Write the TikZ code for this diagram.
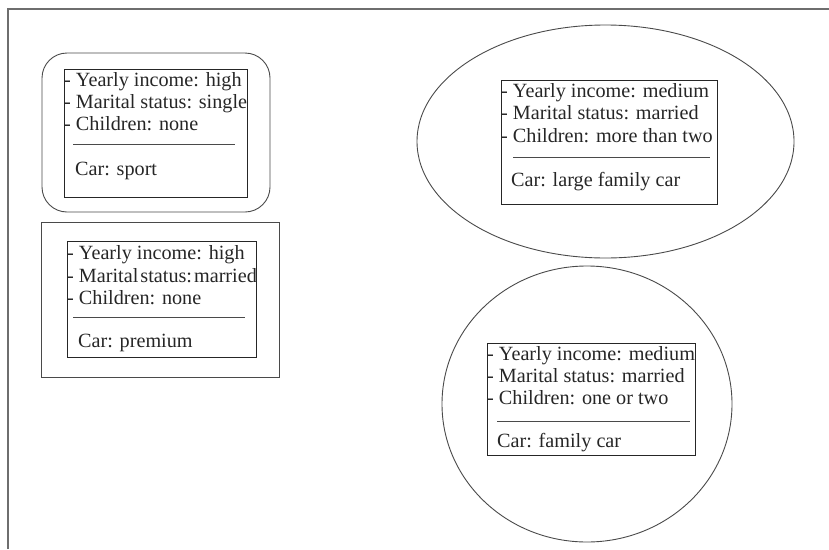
\documentclass[tikz,border=0pt]{standalone}
\usepackage{fontspec}
\setmainfont{Liberation Serif}
\definecolor{LineClr}{HTML}{4a4a4a}
\definecolor{FrameClr}{HTML}{6e6e6e}

\begin{document}
\begin{tikzpicture}[x=1pt,y=-1pt,
  frame/.style={line width=2pt,color=FrameClr},
  outline/.style={line width=0.9pt,color=LineClr},
  card/.style={line width=0.8pt,color=black!85},
  sep/.style={line width=0.8pt,color=LineClr},
  attr/.style={anchor=base west,inner sep=0pt,text=black!85,font=\fontsize{20.2}{22}\selectfont}]
\useasboundingbox (0,0) rectangle (829,549);

\draw[frame] (8,549) -- (8,8.5) -- (829,8.5);

% sport
\draw[outline,rounded corners=25pt] (42,53) rectangle (270,212);
\draw[card] (64,69) rectangle (247,197);
\node[attr] (sportA) at (64,86) {- Yearly income: high};
\node[attr] (sportB) at (64,108) {- Marital status: single};
\node[attr] (sportC) at (64,130) {- Children: none};
\coordinate (sportL) at (73,144);
\coordinate (sportR) at (235,144);
\draw[sep] (sportL) -- (sportR);
\node[attr] (sportCar) at (75,175) {Car: sport};

% premium
\draw[outline] (41,222) rectangle (279,377);
\draw[card] (67,241) rectangle (256,357);
\node[attr] (premA) at (67,259) {- Yearly income: high};
\node[attr] (premB) at (67,282) {- Marital\hspace{2pt}status:\hspace{2pt}married};
\node[attr] (premC) at (67,304) {- Children: none};
\coordinate (premL) at (73,317);
\coordinate (premR) at (245,317);
\draw[sep] (premL) -- (premR);
\node[attr] (premCar) at (78,347) {Car: premium};

% large family car
\draw[outline] (605.5,141.5) ellipse [x radius=188.5,y radius=116.5];
\draw[card] (501,80) rectangle (717,204);
\node[attr] (largeA) at (501,97) {- Yearly income: medium};
\node[attr] (largeB) at (501,119) {- Marital status: married};
\node[attr] (largeC) at (501,142) {- Children: more than two};
\coordinate (largeL) at (513,157);
\coordinate (largeR) at (710,157);
\draw[sep] (largeL) -- (largeR);
\node[attr] (largeCar) at (511,186) {Car: large family car};

% family car
\draw[outline] (587,404) ellipse [x radius=145,y radius=138];
\draw[card] (487,343) rectangle (695,455);
\node[attr] (famA) at (487,360) {- Yearly income: medium};
\node[attr] (famB) at (487,382) {- Marital status: married};
\node[attr] (famC) at (487,404) {- Children: one or two};
\coordinate (famL) at (497,421);
\coordinate (famR) at (690,421);
\draw[sep] (famL) -- (famR);
\node[attr] (famCar) at (497,447) {Car: family car};

\end{tikzpicture}
\end{document}
